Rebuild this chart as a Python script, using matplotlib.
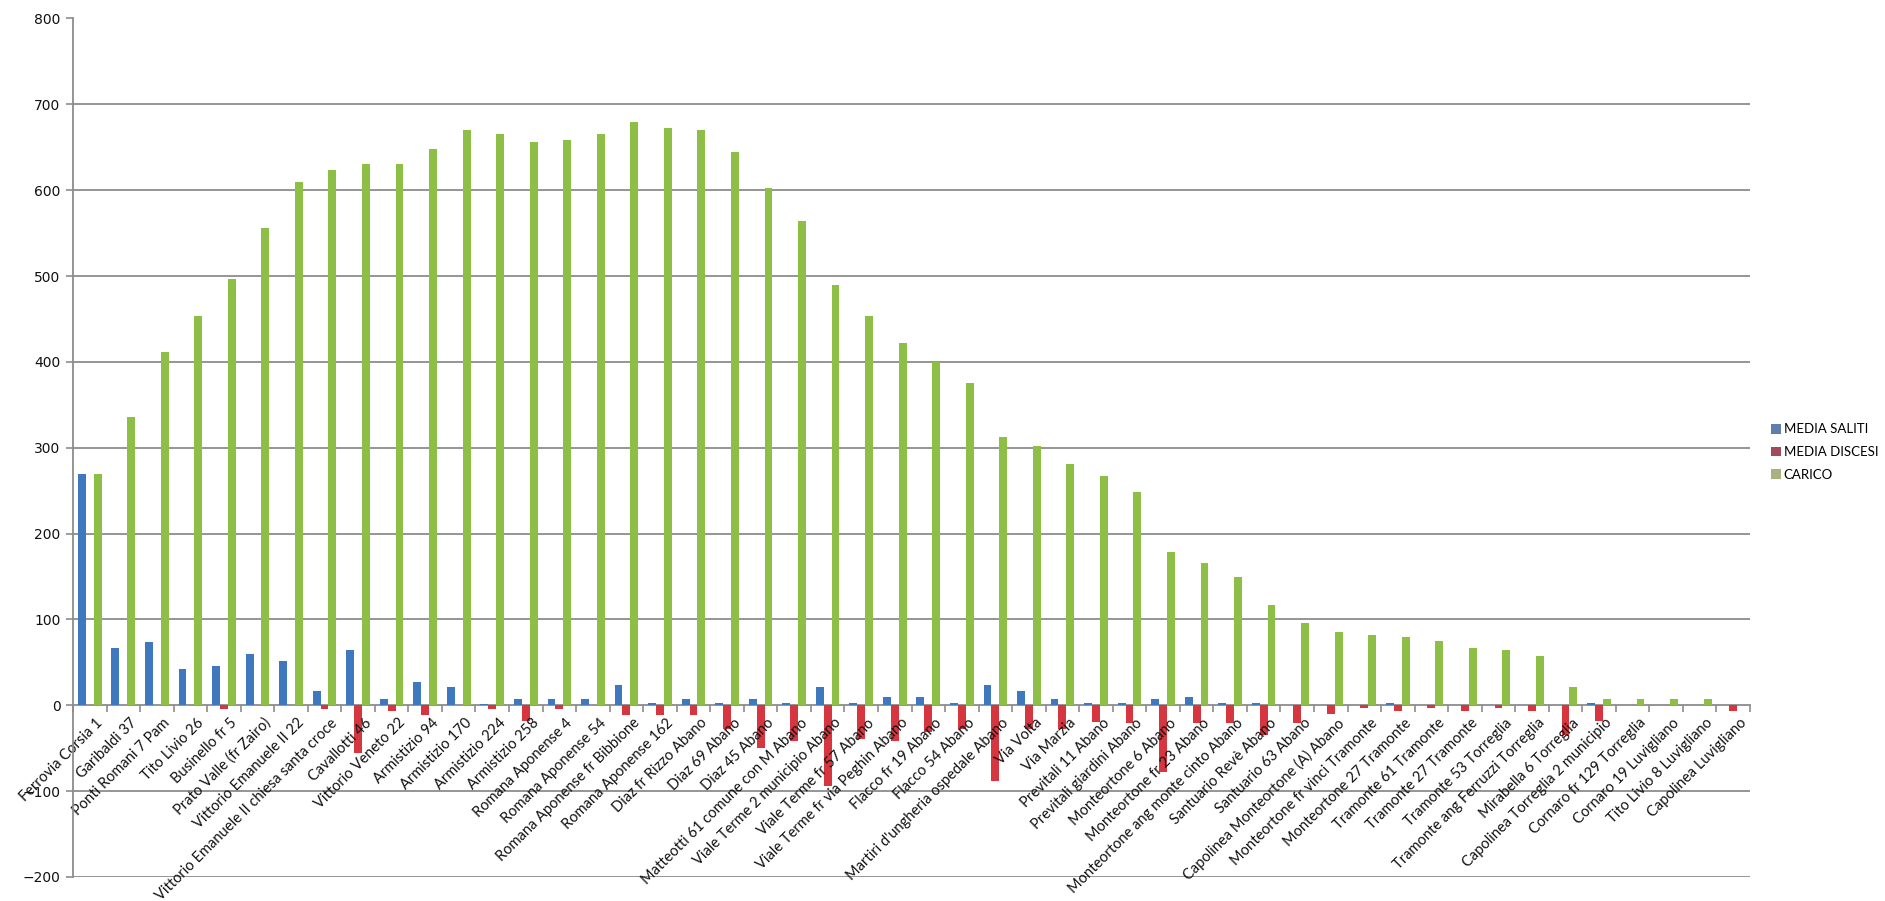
import matplotlib
matplotlib.use("Agg")
import matplotlib.pyplot as plt
import matplotlib.transforms as mtransforms
from matplotlib.patches import Patch
import numpy as np

fermate = [
    "Ferrovia Corsia 1", "Garibaldi 37", "Ponti Romani 7 Pam", "Tito Livio 26",
    "Businello fr 5", "Prato Valle (fr Zairo)", "Vittorio Emanuele II 22",
    "Vittorio Emanuele II chiesa santa croce", "Cavallotti 46", "Vittorio Veneto 22",
    "Armistizio 94", "Armistizio 170", "Armistizio 224", "Armistizio 258",
    "Romana Aponense 4", "Romana Aponense 54", "Romana Aponense fr Bibbione",
    "Romana Aponense 162", "Diaz fr Rizzo Abano", "Diaz 69 Abano", "Diaz 45 Abano",
    "Matteotti 61 comune con M Abano", "Viale Terme 2 municipio Abano",
    "Viale Terme fr 57 Abano", "Viale Terme fr via Peghin Abano", "Flacco fr 19 Abano",
    "Flacco 54 Abano", "Martiri d'ungheria ospedale Abano", "Via Volta", "Via Marzia",
    "Previtali 11 Abano", "Previtali giardini Abano", "Monteortone 6 Abano",
    "Monteortone fr 23 Abano", "Monteortone ang monte cinto Abano",
    "Santuario Revè Abano", "Santuario 63 Abano", "Capolinea Monteortone (A) Abano",
    "Monteortone fr vinci Tramonte", "Monteortone 27 Tramonte", "Tramonte 61 Tramonte",
    "Tramonte 27 Tramonte", "Tramonte 53 Torreglia", "Tramonte ang Ferruzzi Torreglia",
    "Mirabella 6 Torreglia", "Capolinea Torreglia 2 municipio", "Cornaro fr 129 Torreglia",
    "Cornaro 19 Luvigliano", "Tito Livio 8 Luvigliano", "Capolinea Luvigliano",
]

media_saliti = [
    270, 67, 74, 42, 46, 60, 52, 17, 64, 7,
    27, 21, 1, 7, 7, 7, 24, 3, 7, 3,
    7, 3, 21, 3, 10, 10, 3, 24, 17, 7,
    3, 3, 7, 10, 3, 3, 0, 0, 0, 3,
    0, 0, 0, 0, 0, 3, 0, 0, 0, 0,
]

media_discesi = [
    0, 0, 0, 0, -4, 0, 0, -4, -56, -7,
    -11, 0, -4, -18, -4, 0, -11, -11, -11, -28,
    -50, -42, -94, -39, -42, -31, -28, -88, -28, -28,
    -19, -21, -78, -21, -21, -35, -21, -10, -3, -7,
    -3, -7, -3, -7, -35, -18, 0, 0, 0, -7,
]

carico = [
    270, 336, 411, 454, 497, 556, 610, 624, 631, 631,
    648, 670, 666, 656, 659, 666, 680, 673, 670, 645,
    603, 564, 489, 454, 422, 400, 376, 313, 302, 281,
    267, 249, 178, 166, 149, 117, 96, 85, 82, 79,
    75, 67, 64, 57, 21, 7, 7, 7, 7, 0,
]

serie = ["MEDIA SALITI", "MEDIA DISCESI", "CARICO"]
colori = ["#3F78BE", "#D6363F", "#8DBE45"]
colori_legenda = ["#5F7FAA", "#A24A5C", "#A9B17F"]

fig = plt.figure(figsize=(18.85, 9.01), dpi=100)
ax = fig.add_axes([73 / 1885, 1 - 877 / 901, (1750 - 73) / 1885, (877 - 18.5) / 901])

yticks = np.arange(-200, 801, 100)
ax.set_xlim(-0.5, len(fermate) - 0.5)
ax.set_ylim(-200, 800)
ax.set_yticks(yticks)

# horizontal gridlines behind the bars
for yv in yticks:
    if yv != 0:
        ax.axhline(yv, color="#8C8C8C", linewidth=1.3, zorder=0.5)

x = np.arange(len(fermate))
w = 0.235
for k, (vals, col) in enumerate(zip([media_saliti, media_discesi, carico], colori)):
    ax.bar(x + (k - 1) * w, vals, width=w, color=col, linewidth=0, zorder=1.5)

for s in ["top", "right"]:
    ax.spines[s].set_visible(False)
ax.spines["left"].set_color("#8C8C8C")
ax.spines["left"].set_linewidth(1.3)
ax.spines["bottom"].set_position(("data", 0))
ax.spines["bottom"].set_color("#8C8C8C")
ax.spines["bottom"].set_linewidth(1.3)
ax.spines["bottom"].set_zorder(1.2)

ax.tick_params(axis="y", length=5, width=1.2, color="#8C8C8C", pad=4,
               labelsize=10, labelcolor="#111111")
for lab in ax.get_yticklabels():
    lab.set_family(["Liberation Sans Narrow", "DejaVu Sans"])

# category ticks at boundaries, labels at centres
ax.set_xticks(x)
ax.set_xticks(np.arange(-0.5, len(fermate)), minor=True)
ax.tick_params(axis="x", which="major", length=0, pad=9)
ax.tick_params(axis="x", which="minor", length=5, width=1.2, color="#8C8C8C", direction="out")
ax.set_xticklabels(fermate, rotation=45, ha="right", va="center",
                   rotation_mode="anchor", fontsize=10.5, family="Lato", color="#111111")
shift = mtransforms.ScaledTranslation(11 / 100, -3 / 100, fig.dpi_scale_trans)
for lab in ax.get_xticklabels():
    lab.set_transform(lab.get_transform() + shift)

handles = [Patch(facecolor=c, edgecolor="none") for c in colori_legenda]
fig.legend(handles, serie, loc="center left", bbox_to_anchor=(1771 / 1885, 1 - 452 / 901),
           frameon=False, prop={"family": "Lato", "size": 9.5},
           handlelength=0.75, handleheight=0.75, handletextpad=0.2, labelspacing=0.8,
           borderaxespad=0, borderpad=0)

fig.savefig("out.png", dpi=100, facecolor="white")
